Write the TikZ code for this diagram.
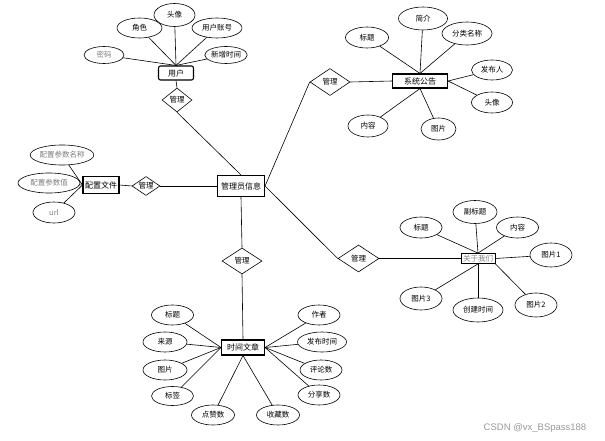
\documentclass[tikz,border=0pt]{standalone}
\usepackage{fontspec}
\setmainfont{Noto Sans CJK SC}
\newfontfamily\wmfont{Liberation Sans}
\usetikzlibrary{shapes.geometric}
\begin{document}
\begin{tikzpicture}[x=1pt,y=-1pt,
  every node/.style={font=\fontsize{7.5}{8}\selectfont, inner sep=0pt},
  attr/.style={ellipse,draw,line width=0.6pt,fill=white},
  ent/.style={rectangle,draw,line width=1.1pt,fill=white,font=\fontsize{8}{9}\selectfont},
  rel/.style={diamond,aspect=1.5,draw,line width=0.6pt,fill=white},
  ln/.style={line width=0.6pt},
  grayt/.style={text=black!50}]
\useasboundingbox[fill=white] (0,0) rectangle (605,441);

% entities
\node[ent,rounded corners=2pt,minimum width=35,minimum height=14] (u) at (176,73) {用户};
\node[ent,minimum width=47,minimum height=21] (a) at (241,186) {管理员信息};
\node[ent,minimum width=36,minimum height=17] (c) at (101,185) {配置文件};
\node[ent,minimum width=55,minimum height=14] (s) at (420,81) {系统公告};
\node[ent,line width=0.8pt,minimum width=34,minimum height=10,grayt,font=\fontsize{7.5}{8}\selectfont] (g) at (478,258.5) {关于我们};
\node[ent,minimum width=43,minimum height=15] (t) at (243,347.5) {时间文章};

% relations
\node[rel,minimum width=30,minimum height=24] (d1) at (177,100) {管理};
\node[rel,minimum width=28,minimum height=19] (d2) at (146,186) {管理};
\node[rel,minimum width=40,minimum height=27] (d3) at (330,82) {管理};
\node[rel,minimum width=41,minimum height=27] (d4) at (358.5,258.5) {管理};
\node[rel,minimum width=40,minimum height=26] (d5) at (242,261) {管理};

% user attributes
\node[attr,minimum width=40,minimum height=17,grayt] (u1) at (104,55) {密码};
\node[attr,minimum width=45,minimum height=20] (u2) at (139.5,28) {角色};
\node[attr,minimum width=41,minimum height=23] (u3) at (174.5,15) {头像};
\node[attr,minimum width=50,minimum height=20] (u4) at (217,28) {用户账号};
\node[attr,minimum width=42,minimum height=17] (u5) at (226,55) {新增时间};

% config attributes
\node[attr,minimum width=63,minimum height=20,grayt] (c1) at (62,155) {配置参数名称};
\node[attr,minimum width=62,minimum height=20,grayt] (c2) at (49,183) {配置参数值};
\node[attr,minimum width=42,minimum height=21,grayt] (c3) at (54,212.5) {url};

% notice attributes
\node[attr,minimum width=43,minimum height=21] (s1) at (367,37.5) {标题};
\node[attr,minimum width=49,minimum height=23] (s2) at (423,18.5) {简介};
\node[attr,minimum width=50,minimum height=23] (s3) at (467,33.5) {分类名称};
\node[attr,minimum width=41,minimum height=20] (s4) at (492,70) {发布人};
\node[attr,minimum width=41,minimum height=21] (s5) at (492,102.5) {头像};
\node[attr,minimum width=40,minimum height=22] (s6) at (368,126) {内容};
\node[attr,minimum width=35,minimum height=22] (s7) at (438.5,129) {图片};

% about attributes
\node[attr,minimum width=42,minimum height=21] (g1) at (421,227.5) {标题};
\node[attr,minimum width=44,minimum height=23] (g2) at (475,212) {副标题};
\node[attr,minimum width=42,minimum height=21] (g3) at (517.5,227.5) {内容};
\node[attr,minimum width=42,minimum height=24] (g4) at (551,255) {图片1};
\node[attr,minimum width=42,minimum height=24] (g5) at (536,305) {图片2};
\node[attr,minimum width=50,minimum height=24] (g6) at (478,310) {创建时间};
\node[attr,minimum width=42,minimum height=23] (g7) at (421,298.5) {图片3};

% article attributes
\node[attr,minimum width=42,minimum height=20] (t1) at (172.5,315) {标题};
\node[attr,minimum width=44,minimum height=20] (t2) at (165,342) {来源};
\node[attr,minimum width=44,minimum height=20] (t3) at (165,370) {图片};
\node[attr,minimum width=42,minimum height=19] (t4) at (172.5,396) {标签};
\node[attr,minimum width=43,minimum height=20] (t5) at (213,415) {点赞数};
\node[attr,minimum width=43,minimum height=20] (t6) at (278,415) {收藏数};
\node[attr,minimum width=42,minimum height=20] (t7) at (319,315) {作者};
\node[attr,minimum width=49,minimum height=20] (t8) at (322,342) {发布时间};
\node[attr,minimum width=42,minimum height=20] (t9) at (321,370) {评论数};
\node[attr,minimum width=42,minimum height=20] (t10) at (319,395) {分享数};

% connectors
\draw[ln] (u.south) -- (d1.north);
\draw[ln] (d1.south) -- (a.north);
\draw[ln] (c.east) -- (d2.west);
\draw[ln] (d2.east) -- (a.west);
\draw[ln] (a.east) -- (d3.west);
\draw[ln] (d3.east) -- (s.west);
\draw[ln] (a.east) -- (d4.west);
\draw[ln] (d4.east) -- (g.west);
\draw[ln] (a.south) -- (d5.north);
\draw[ln] (d5.south) -- (t.north);

\foreach \n in {u1,u2,u3,u4,u5} \draw[ln] (\n) -- (u.north);
\foreach \n in {c1,c2,c3} \draw[ln] (\n) -- (c.west);
\foreach \n in {s1,s2,s3} \draw[ln] (\n) -- (s.north);
\foreach \n in {s4,s5} \draw[ln] (\n) -- (s.east);
\foreach \n in {s6,s7} \draw[ln] (\n) -- (s.south);
\foreach \n in {g1,g2,g3} \draw[ln] (\n) -- (g.north);
\draw[ln] (g4) -- (g.east);
\draw[ln] (g5) -- (g.south east);
\foreach \n in {g6,g7} \draw[ln] (\n) -- (g.south);
\foreach \n in {t1,t2,t3,t4} \draw[ln] (\n) -- (t.west);
\foreach \n in {t7,t8,t9,t10} \draw[ln] (\n) -- (t.east);
\foreach \n in {t5,t6} \draw[ln] (\n) -- (t.south);

% watermark
\node[font=\wmfont\fontsize{9.5}{11}\selectfont,text=black!40] (wm) at (535,428) {CSDN @vx\_BSpass188};
\end{tikzpicture}
\end{document}
